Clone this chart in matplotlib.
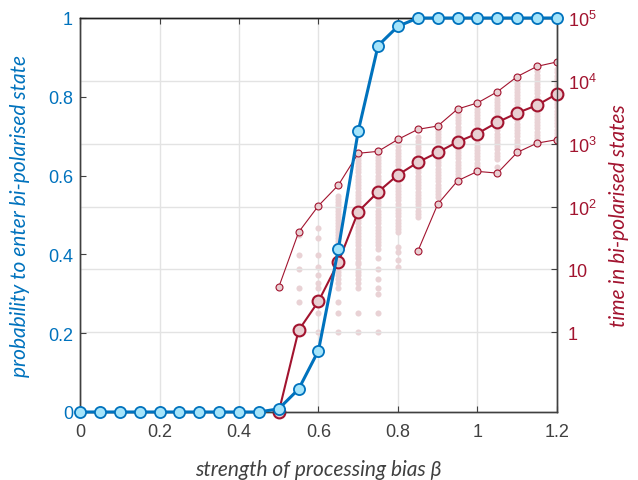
#!/usr/bin/env python3
"""Probability of entering a bi-polarised state and time spent there vs. processing bias.

Left axis (blue): probability to enter the bi-polarised state.
Right axis (red, log scale): median / min / max time in bi-polarised states,
with the individual runs shown as pale dots behind.
"""

import matplotlib.pyplot as plt
import matplotlib.ticker as mticker
import numpy as np

# processing bias values
beta = [0.0, 0.05, 0.1, 0.15, 0.2, 0.25, 0.3, 0.35, 0.4, 0.45, 0.5, 0.55,
        0.6, 0.65, 0.7, 0.75, 0.8, 0.85, 0.9, 0.95, 1.0, 1.05, 1.1, 1.15, 1.2]
prob_bipolar = [0, 0, 0, 0, 0, 0, 0, 0, 0, 0, 0.008, 0.058,
                0.156, 0.414, 0.713, 0.93, 0.979, 1, 1, 1, 1, 1, 1, 1, 1]

# time statistics (right axis), beta from 0.5 upward
beta_time = [0.5, 0.55, 0.6, 0.65, 0.7, 0.75, 0.8, 0.85, 0.9, 0.95,
             1.0, 1.05, 1.1, 1.15, 1.2]
time_median = [0, 1.07, 3.1, 13, 83, 171, 319, 505, 727, 1070,
               1450, 2190, 3080, 4100, 6200]
time_max = [5.2, 39, 103, 219, 703, 755, 1170, 1690, 1910, 3560,
            4450, 6700, 11700, 17000, 20000]
beta_min = [0.85, 0.9, 0.95, 1.0, 1.05, 1.1, 1.15, 1.2]
time_min = [19.5, 109, 257, 362, 340, 727, 1020, 1160]

# individual runs
runs = {
    0.55: [3, 5, 10, 17, 35],
    0.6: [1, 2, 3, 5, 6, 8, 11, 17, 31, 45],
    0.65: [1, 2, 3, 5, 6, 7, 8, 9, 10, 12, 13, 15, 16, 18, 20, 23, 25, 28, 31,
           35, 39, 44, 49, 55, 61, 68, 76, 84, 94, 105, 117, 131, 146],
    0.7: [1, 2, 5, 6, 7, 8, 9, 10, 12, 13, 15, 17, 19, 21, 24, 27, 30, 34, 38,
          43, 48, 54, 61, 68, 77, 86, 97, 109, 122, 137, 154, 173, 195, 219,
          246, 276, 310, 349, 392, 440, 494, 555, 620],
    0.75: [1, 2, 4, 5, 7, 10, 15, 21, 24, 27, 30, 34, 38, 43, 48, 54, 61, 68,
           77, 86, 97, 109, 122, 137, 154, 173, 195, 219, 246, 276, 310, 349,
           392, 440, 494, 555, 624, 700, 790],
    0.8: [11, 14, 19, 23, 39, 44, 49, 55, 62, 70, 78, 88, 99, 111, 125, 140,
          157, 177, 199, 223, 251, 282, 317, 356, 400, 450, 505, 568, 638, 717,
          806, 906, 1020],
    0.85: [68, 77, 86, 97, 109, 122, 137, 154, 173, 195, 219, 246, 276, 310,
           349, 392, 440, 494, 555, 624, 700, 790, 890, 1000, 1120, 1260],
    0.9: [140, 157, 177, 199, 223, 251, 282, 317, 356, 400, 450, 505, 568, 638,
          717, 806, 906, 1020, 1140, 1290, 1450, 1600],
    0.95: [290, 326, 366, 411, 462, 519, 583, 655, 736, 827, 929, 1040, 1170,
           1320, 1480, 1660, 1870, 2100, 2360, 2650, 2950],
    1.0: [395, 444, 499, 560, 630, 707, 795, 893, 1000, 1130, 1270, 1420, 1600,
          1800, 2020, 2270, 2550, 2860, 3210, 3610],
    1.05: [425, 570, 640, 720, 810, 910, 1020, 1150, 1290, 1450, 1630, 1830,
           2050, 2310, 2590, 2910, 3270, 3680, 4130, 4640, 5210, 5850],
    1.1: [820, 920, 1040, 1160, 1310, 1470, 1650, 1850, 2080, 2340, 2630, 2950,
          3310, 3720, 4180, 4700, 5280, 5930, 6660, 7480, 8400, 9400],
    1.15: [1100, 1240, 1390, 1560, 1750, 1970, 2210, 2480, 2790, 3130, 3520,
           3950, 4440, 4990, 5600, 6290, 7070, 7940, 8920, 10000, 11300, 12600,
           14200],
    1.2: [1180, 1330, 1490, 1680, 1880, 2110, 2370, 2670, 3000, 3370, 3780,
          4250, 4770, 5360, 6020, 6760, 7600, 8530, 9580, 10800, 12100, 13600,
          15300],
}

x_ticks = [0, 0.2, 0.4, 0.6, 0.8, 1.0, 1.2]
x_ticklabels = ["0", "0.2", "0.4", "0.6", "0.8", "1", "1.2"]
p_ticks = [0, 0.2, 0.4, 0.6, 0.8, 1.0]
p_ticklabels = ["0", "0.2", "0.4", "0.6", "0.8", "1"]
t_ticks = [1, 10, 1e2, 1e3, 1e4, 1e5]
t_ticklabels = ["1", "10", r"$10^2$", r"$10^3$", r"$10^4$", r"$10^5$"]

BLUE = "#0072bd"
BLUE_FACE = "#a4e4fb"
RED = "#a2142f"
RED_FACE = "#e9cfd2"
PINK = "#e9d2d5"
GREY = "#404040"
T_MIN = 10 ** -1.27
T_MAX = 1e5

plt.rcParams["font.family"] = ["Liberation Sans", "DejaVu Sans"]
plt.rcParams["mathtext.fontset"] = "custom"
plt.rcParams["mathtext.rm"] = "Liberation Sans"
plt.rcParams["mathtext.it"] = "Liberation Sans:italic"

label_font = {"family": ["Lato", "DejaVu Sans"], "style": "italic", "size": 15}


def main():
    fig = plt.figure(figsize=(6.38, 4.81), dpi=100)
    ax1 = fig.add_axes([0.1254, 0.1414, 0.7476, 0.8191])
    ax2 = ax1.twinx()
    ax1.set_zorder(ax2.get_zorder() + 1)
    ax1.patch.set_visible(False)

    # right axis: grid, runs, time statistics
    ax2.set_yscale("log")
    ax2.set_ylim(T_MIN, T_MAX)
    ax2.yaxis.set_major_locator(mticker.FixedLocator(t_ticks))
    ax2.yaxis.set_major_formatter(mticker.FixedFormatter(t_ticklabels))
    ax2.yaxis.set_minor_locator(mticker.NullLocator())
    ax2.grid(axis="y", color="#e3e3e3", linewidth=1.0)
    for xt in x_ticks:
        ax2.axvline(xt, color="#e3e3e3", linewidth=1.0, zorder=0)

    for b, vals in runs.items():
        ax2.plot([b] * len(vals), vals, linestyle="none", marker="o",
                 markersize=4.4, color=PINK, markeredgewidth=0, zorder=1)

    ax2.plot(beta_time, time_max, color=RED, linewidth=0.8, marker="o",
             markersize=5, markerfacecolor=RED_FACE, markeredgecolor=RED,
             markeredgewidth=0.8, zorder=2)
    ax2.plot(beta_min, time_min, color=RED, linewidth=0.8, marker="o",
             markersize=5, markerfacecolor=RED_FACE, markeredgecolor=RED,
             markeredgewidth=0.8, zorder=2)
    ax2.plot(beta_time, np.maximum(time_median, T_MIN), color=RED,
             linewidth=1.5, marker="o", markersize=8.5,
             markerfacecolor=RED_FACE, markeredgecolor=RED,
             markeredgewidth=1.5, zorder=3, clip_on=False)

    ax2.tick_params(axis="y", direction="in", length=4, width=0.8,
                    colors=GREY, labelcolor=RED, labelsize=13, pad=8)
    ax2.set_ylabel("time in bi-polarised states", color=RED, **label_font)
    ax2.yaxis.set_label_coords(1.11, 0.5)

    # left axis: probability
    ax1.plot(beta, prob_bipolar, color=BLUE, linewidth=2.2, marker="o",
             markersize=8, markerfacecolor=BLUE_FACE, markeredgecolor=BLUE,
             markeredgewidth=1.3, clip_on=False, zorder=5)
    ax1.set_xlim(0, 1.2)
    ax1.set_ylim(0, 1)
    ax1.set_xticks(x_ticks)
    ax1.set_xticklabels(x_ticklabels)
    ax1.set_yticks(p_ticks)
    ax1.set_yticklabels(p_ticklabels)
    ax1.tick_params(axis="x", direction="in", length=4, width=0.8, top=True,
                    colors=GREY, labelcolor=GREY, labelsize=13, pad=8)
    ax1.tick_params(axis="y", direction="in", length=4, width=0.8,
                    colors=GREY, labelcolor=BLUE, labelsize=13, pad=5)
    ax1.set_ylabel("probability to enter bi-polarised state", color=BLUE,
                   **label_font)
    ax1.yaxis.set_label_coords(-0.105, 0.5)
    ax1.set_xlabel(r"strength of processing bias β", color=GREY, **label_font)
    ax1.xaxis.set_label_coords(0.5, -0.12)

    for ax in (ax1, ax2):
        for side in ("left", "right", "bottom"):
            ax.spines[side].set_color(GREY)
            ax.spines[side].set_linewidth(1.0)
        ax.spines["top"].set_color("#202020")
        ax.spines["top"].set_linewidth(1.0)

    fig.savefig("out.png", dpi=100)
    plt.close(fig)


if __name__ == "__main__":
    main()
